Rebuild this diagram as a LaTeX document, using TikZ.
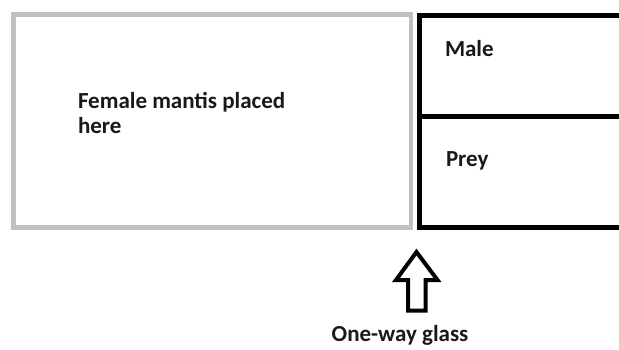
\documentclass[tikz,border=0pt]{standalone}
\usepackage{fontspec}
\setmainfont{Carlito}
\definecolor{boxgray}{RGB}{192,192,192}
\tikzset{
  lbl/.style={anchor=base west, inner sep=0pt, outer sep=0pt, font=\bfseries\fontsize{23}{25}\selectfont, text=black!90},
  grayframe/.style={draw=boxgray, line width=4.5pt},
  blackframe/.style={draw=black, line width=5pt},
  blockarrow/.style={draw=black, line width=4pt, line join=miter}
}
\begin{document}
\begin{tikzpicture}[x=1pt,y=-1pt]
\useasboundingbox (0,0) rectangle (619,349);
\fill[white] (0,0) rectangle (619,349);
\clip (0,0) rectangle (619,349);
% female enclosure
\draw[grayframe] (13.5,14.5) rectangle (411,227.5);
% male / prey enclosure
\draw[blackframe] (630,15) -- (419,15) -- (419,227) -- (630,227);
\draw[blackframe] (419,116.7) -- (630,116.7);
% one-way glass arrow
\draw[blockarrow] (416.5,252) -- (437.5,280) -- (425.5,280) -- (425.5,310.7)
  -- (408,310.7) -- (408,280) -- (396,280) -- cycle;
% labels
\node[lbl] (female) at (78,108.3) {Female mantis placed};
\node[lbl] (here) at (78,133.3) {here};
\node[lbl] (male) at (445,56) {Male};
\node[lbl] (prey) at (446,166.7) {Prey};
\node[lbl] (glass) at (331.7,341.7) {One-way glass};
\end{tikzpicture}
\end{document}
